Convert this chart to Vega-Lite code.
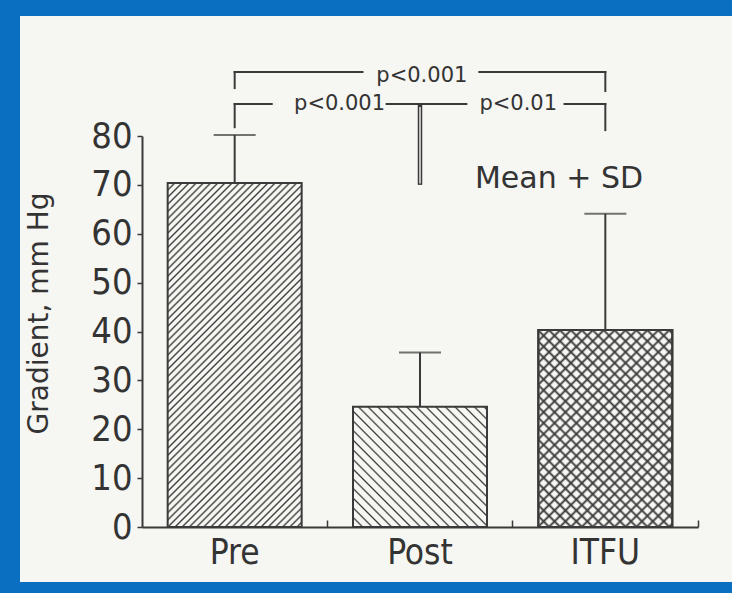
{
"$schema":"https://vega.github.io/schema/vega-lite/v6.json",
"width":712,"height":566,
"autosize":{"type":"none"},
"padding":{"left":20,"top":16,"right":0,"bottom":11},
"background":"#0b6fc1",
"config":{"view":{"fill":"#f6f6f2","stroke":null},"axis":{"grid":false}},
"datasets":{
"groups":[{"condition":"Pre","mean":70.4,"upper":80.2},{"condition":"Post","mean":24.6,"upper":35.7},{"condition":"ITFU","mean":40.3,"upper":64.1}],
"brackets":[
{"x_start":0.5,"x_end":0.5,"y_start":93.1,"y_end":89.8},
{"x_start":0.5,"x_end":1.19,"y_start":93.1,"y_end":93.1},
{"x_start":1.82,"x_end":2.5,"y_start":93.1,"y_end":93.1},
{"x_start":2.5,"x_end":2.5,"y_start":93.1,"y_end":89.2},
{"x_start":0.5,"x_end":0.5,"y_start":86.55,"y_end":81.8},
{"x_start":0.5,"x_end":0.7,"y_start":86.55,"y_end":86.55},
{"x_start":1.32,"x_end":1.75,"y_start":86.55,"y_end":86.55},
{"x_start":2.28,"x_end":2.5,"y_start":86.55,"y_end":86.55},
{"x_start":2.5,"x_end":2.5,"y_start":86.55,"y_end":81.2}],
"stem":[{"pos":1.5,"top":86.55,"bottom":70.0}],
"pvalues":[{"label":"p<0.001","pos":1.51,"value":91.1},{"label":"p<0.001","pos":1.066,"value":85.3},{"label":"p<0.01","pos":2.03,"value":85.3}],
"note":[{"label":"Mean + SD","pos":2.25,"value":69.4}]
},
"resolve":{"scale":{"x":"independent"},"axis":{"x":"independent"}},
"layer":[
{
"data":{"name":"groups"},
"encoding":{
"x":{"field":"condition","type":"nominal","sort":["Pre","Post","ITFU"],
"scale":{"domain":["Pre","Post","ITFU"],"range":[122,678],"paddingInner":0,"paddingOuter":0},
"axis":{"orient":"bottom","offset":-55,"title":null,"labelAngle":0,"bandPosition":1,"tickSize":-7,"tickWidth":1.5,"tickColor":"#3a3a3a","domainColor":"#3a3a3a","domainWidth":2,"labelFont":"DejaVu Sans Condensed","labelFontSize":35,"labelColor":"#333333","labelBaseline":"alphabetic","labelPadding":43,"labelDx":5}},
"y":{"field":"mean","type":"quantitative","scale":{"domain":[0,80],"range":[511,120],"nice":false,"zero":true},
"axis":{"orient":"left","offset":-122,"values":[0,5,10,15,20,25,30,35,40,45,50,55,60,65,70,75,80],"labelExpr":"datum.value % 10 === 0 ? datum.label : ''","labelOverlap":false,"tickSize":5,"tickWidth":1.5,"tickColor":"#3a3a3a","domainColor":"#3a3a3a","domainWidth":2,"labelPadding":5,"labelFont":"DejaVu Sans Condensed","labelFontSize":36,"labelColor":"#333333","title":"Gradient, mm Hg","titleFont":"DejaVu Sans","titleFontSize":28,"titleFontWeight":"normal","titleColor":"#333333","titleX":-103,"titleY":297,"titleAngle":-90,"titleAlign":"center","titleBaseline":"middle"}}
},
"layer":[
{"transform":[{"filter":"datum.condition === 'Pre'"}],
"mark":{"type":"bar","width":134,"stroke":"#3a3a3a","strokeWidth":2,"fill":{"gradient":"linear","x1":0,"y1":0,"x2":0.4699,"y2":1.2065,"stops":[
{"offset":0,"color":"#f6f6f2"},
{"offset":0.011,"color":"#f6f6f2"},{"offset":0.015,"color":"#3a3a3a"},{"offset":0.019,"color":"#f6f6f2"},
{"offset":0.026,"color":"#f6f6f2"},{"offset":0.03,"color":"#3a3a3a"},{"offset":0.034,"color":"#f6f6f2"},
{"offset":0.041,"color":"#f6f6f2"},{"offset":0.045,"color":"#3a3a3a"},{"offset":0.049,"color":"#f6f6f2"},
{"offset":0.056,"color":"#f6f6f2"},{"offset":0.06,"color":"#3a3a3a"},{"offset":0.064,"color":"#f6f6f2"},
{"offset":0.071,"color":"#f6f6f2"},{"offset":0.075,"color":"#3a3a3a"},{"offset":0.079,"color":"#f6f6f2"},
{"offset":0.086,"color":"#f6f6f2"},{"offset":0.09,"color":"#3a3a3a"},{"offset":0.094,"color":"#f6f6f2"},
{"offset":0.101,"color":"#f6f6f2"},{"offset":0.105,"color":"#3a3a3a"},{"offset":0.109,"color":"#f6f6f2"},
{"offset":0.116,"color":"#f6f6f2"},{"offset":0.12,"color":"#3a3a3a"},{"offset":0.124,"color":"#f6f6f2"},
{"offset":0.131,"color":"#f6f6f2"},{"offset":0.135,"color":"#3a3a3a"},{"offset":0.139,"color":"#f6f6f2"},
{"offset":0.146,"color":"#f6f6f2"},{"offset":0.15,"color":"#3a3a3a"},{"offset":0.154,"color":"#f6f6f2"},
{"offset":0.161,"color":"#f6f6f2"},{"offset":0.165,"color":"#3a3a3a"},{"offset":0.169,"color":"#f6f6f2"},
{"offset":0.176,"color":"#f6f6f2"},{"offset":0.18,"color":"#3a3a3a"},{"offset":0.184,"color":"#f6f6f2"},
{"offset":0.191,"color":"#f6f6f2"},{"offset":0.195,"color":"#3a3a3a"},{"offset":0.199,"color":"#f6f6f2"},
{"offset":0.206,"color":"#f6f6f2"},{"offset":0.21,"color":"#3a3a3a"},{"offset":0.214,"color":"#f6f6f2"},
{"offset":0.221,"color":"#f6f6f2"},{"offset":0.225,"color":"#3a3a3a"},{"offset":0.229,"color":"#f6f6f2"},
{"offset":0.236,"color":"#f6f6f2"},{"offset":0.24,"color":"#3a3a3a"},{"offset":0.244,"color":"#f6f6f2"},
{"offset":0.251,"color":"#f6f6f2"},{"offset":0.255,"color":"#3a3a3a"},{"offset":0.259,"color":"#f6f6f2"},
{"offset":0.266,"color":"#f6f6f2"},{"offset":0.27,"color":"#3a3a3a"},{"offset":0.274,"color":"#f6f6f2"},
{"offset":0.281,"color":"#f6f6f2"},{"offset":0.285,"color":"#3a3a3a"},{"offset":0.289,"color":"#f6f6f2"},
{"offset":0.296,"color":"#f6f6f2"},{"offset":0.3,"color":"#3a3a3a"},{"offset":0.304,"color":"#f6f6f2"},
{"offset":0.311,"color":"#f6f6f2"},{"offset":0.315,"color":"#3a3a3a"},{"offset":0.319,"color":"#f6f6f2"},
{"offset":0.326,"color":"#f6f6f2"},{"offset":0.33,"color":"#3a3a3a"},{"offset":0.334,"color":"#f6f6f2"},
{"offset":0.341,"color":"#f6f6f2"},{"offset":0.345,"color":"#3a3a3a"},{"offset":0.349,"color":"#f6f6f2"},
{"offset":0.356,"color":"#f6f6f2"},{"offset":0.36,"color":"#3a3a3a"},{"offset":0.364,"color":"#f6f6f2"},
{"offset":0.371,"color":"#f6f6f2"},{"offset":0.375,"color":"#3a3a3a"},{"offset":0.379,"color":"#f6f6f2"},
{"offset":0.386,"color":"#f6f6f2"},{"offset":0.39,"color":"#3a3a3a"},{"offset":0.394,"color":"#f6f6f2"},
{"offset":0.401,"color":"#f6f6f2"},{"offset":0.405,"color":"#3a3a3a"},{"offset":0.409,"color":"#f6f6f2"},
{"offset":0.416,"color":"#f6f6f2"},{"offset":0.42,"color":"#3a3a3a"},{"offset":0.424,"color":"#f6f6f2"},
{"offset":0.431,"color":"#f6f6f2"},{"offset":0.435,"color":"#3a3a3a"},{"offset":0.439,"color":"#f6f6f2"},
{"offset":0.446,"color":"#f6f6f2"},{"offset":0.45,"color":"#3a3a3a"},{"offset":0.454,"color":"#f6f6f2"},
{"offset":0.461,"color":"#f6f6f2"},{"offset":0.465,"color":"#3a3a3a"},{"offset":0.469,"color":"#f6f6f2"},
{"offset":0.476,"color":"#f6f6f2"},{"offset":0.48,"color":"#3a3a3a"},{"offset":0.484,"color":"#f6f6f2"},
{"offset":0.491,"color":"#f6f6f2"},{"offset":0.495,"color":"#3a3a3a"},{"offset":0.499,"color":"#f6f6f2"},
{"offset":0.506,"color":"#f6f6f2"},{"offset":0.51,"color":"#3a3a3a"},{"offset":0.514,"color":"#f6f6f2"},
{"offset":0.521,"color":"#f6f6f2"},{"offset":0.525,"color":"#3a3a3a"},{"offset":0.529,"color":"#f6f6f2"},
{"offset":0.536,"color":"#f6f6f2"},{"offset":0.54,"color":"#3a3a3a"},{"offset":0.544,"color":"#f6f6f2"},
{"offset":0.551,"color":"#f6f6f2"},{"offset":0.555,"color":"#3a3a3a"},{"offset":0.559,"color":"#f6f6f2"},
{"offset":0.566,"color":"#f6f6f2"},{"offset":0.57,"color":"#3a3a3a"},{"offset":0.574,"color":"#f6f6f2"},
{"offset":0.581,"color":"#f6f6f2"},{"offset":0.585,"color":"#3a3a3a"},{"offset":0.589,"color":"#f6f6f2"},
{"offset":0.596,"color":"#f6f6f2"},{"offset":0.6,"color":"#3a3a3a"},{"offset":0.604,"color":"#f6f6f2"},
{"offset":0.611,"color":"#f6f6f2"},{"offset":0.615,"color":"#3a3a3a"},{"offset":0.619,"color":"#f6f6f2"},
{"offset":0.626,"color":"#f6f6f2"},{"offset":0.63,"color":"#3a3a3a"},{"offset":0.634,"color":"#f6f6f2"},
{"offset":0.641,"color":"#f6f6f2"},{"offset":0.645,"color":"#3a3a3a"},{"offset":0.649,"color":"#f6f6f2"},
{"offset":0.656,"color":"#f6f6f2"},{"offset":0.66,"color":"#3a3a3a"},{"offset":0.664,"color":"#f6f6f2"},
{"offset":0.671,"color":"#f6f6f2"},{"offset":0.675,"color":"#3a3a3a"},{"offset":0.679,"color":"#f6f6f2"},
{"offset":0.686,"color":"#f6f6f2"},{"offset":0.69,"color":"#3a3a3a"},{"offset":0.694,"color":"#f6f6f2"},
{"offset":0.701,"color":"#f6f6f2"},{"offset":0.705,"color":"#3a3a3a"},{"offset":0.709,"color":"#f6f6f2"},
{"offset":0.716,"color":"#f6f6f2"},{"offset":0.72,"color":"#3a3a3a"},{"offset":0.724,"color":"#f6f6f2"},
{"offset":0.731,"color":"#f6f6f2"},{"offset":0.735,"color":"#3a3a3a"},{"offset":0.739,"color":"#f6f6f2"},
{"offset":0.746,"color":"#f6f6f2"},{"offset":0.75,"color":"#3a3a3a"},{"offset":0.754,"color":"#f6f6f2"},
{"offset":0.761,"color":"#f6f6f2"},{"offset":0.765,"color":"#3a3a3a"},{"offset":0.769,"color":"#f6f6f2"},
{"offset":0.776,"color":"#f6f6f2"},{"offset":0.78,"color":"#3a3a3a"},{"offset":0.784,"color":"#f6f6f2"},
{"offset":0.791,"color":"#f6f6f2"},{"offset":0.795,"color":"#3a3a3a"},{"offset":0.799,"color":"#f6f6f2"},
{"offset":0.806,"color":"#f6f6f2"},{"offset":0.81,"color":"#3a3a3a"},{"offset":0.814,"color":"#f6f6f2"},
{"offset":0.821,"color":"#f6f6f2"},{"offset":0.825,"color":"#3a3a3a"},{"offset":0.829,"color":"#f6f6f2"},
{"offset":0.836,"color":"#f6f6f2"},{"offset":0.84,"color":"#3a3a3a"},{"offset":0.844,"color":"#f6f6f2"},
{"offset":0.851,"color":"#f6f6f2"},{"offset":0.855,"color":"#3a3a3a"},{"offset":0.859,"color":"#f6f6f2"},
{"offset":0.866,"color":"#f6f6f2"},{"offset":0.87,"color":"#3a3a3a"},{"offset":0.874,"color":"#f6f6f2"},
{"offset":0.881,"color":"#f6f6f2"},{"offset":0.885,"color":"#3a3a3a"},{"offset":0.889,"color":"#f6f6f2"},
{"offset":0.896,"color":"#f6f6f2"},{"offset":0.9,"color":"#3a3a3a"},{"offset":0.904,"color":"#f6f6f2"},
{"offset":0.911,"color":"#f6f6f2"},{"offset":0.915,"color":"#3a3a3a"},{"offset":0.919,"color":"#f6f6f2"},
{"offset":0.926,"color":"#f6f6f2"},{"offset":0.93,"color":"#3a3a3a"},{"offset":0.934,"color":"#f6f6f2"},
{"offset":0.941,"color":"#f6f6f2"},{"offset":0.945,"color":"#3a3a3a"},{"offset":0.949,"color":"#f6f6f2"},
{"offset":0.956,"color":"#f6f6f2"},{"offset":0.96,"color":"#3a3a3a"},{"offset":0.964,"color":"#f6f6f2"},
{"offset":0.971,"color":"#f6f6f2"},{"offset":0.975,"color":"#3a3a3a"},{"offset":0.979,"color":"#f6f6f2"},
{"offset":0.986,"color":"#f6f6f2"},{"offset":0.99,"color":"#3a3a3a"},{"offset":0.994,"color":"#f6f6f2"}
]}}},
{"transform":[{"filter":"datum.condition === 'Post'"}],
"mark":{"type":"bar","width":134,"stroke":"#3a3a3a","strokeWidth":2,"fill":{"gradient":"linear","x1":0,"y1":1,"x2":1.0511,"y2":0.0569,"stops":[
{"offset":0,"color":"#f6f6f2"},
{"offset":0.031,"color":"#f6f6f2"},{"offset":0.038,"color":"#3a3a3a"},{"offset":0.045,"color":"#f6f6f2"},
{"offset":0.069,"color":"#f6f6f2"},{"offset":0.076,"color":"#3a3a3a"},{"offset":0.083,"color":"#f6f6f2"},
{"offset":0.107,"color":"#f6f6f2"},{"offset":0.114,"color":"#3a3a3a"},{"offset":0.121,"color":"#f6f6f2"},
{"offset":0.145,"color":"#f6f6f2"},{"offset":0.152,"color":"#3a3a3a"},{"offset":0.159,"color":"#f6f6f2"},
{"offset":0.183,"color":"#f6f6f2"},{"offset":0.19,"color":"#3a3a3a"},{"offset":0.197,"color":"#f6f6f2"},
{"offset":0.221,"color":"#f6f6f2"},{"offset":0.228,"color":"#3a3a3a"},{"offset":0.235,"color":"#f6f6f2"},
{"offset":0.259,"color":"#f6f6f2"},{"offset":0.266,"color":"#3a3a3a"},{"offset":0.273,"color":"#f6f6f2"},
{"offset":0.297,"color":"#f6f6f2"},{"offset":0.304,"color":"#3a3a3a"},{"offset":0.311,"color":"#f6f6f2"},
{"offset":0.335,"color":"#f6f6f2"},{"offset":0.342,"color":"#3a3a3a"},{"offset":0.349,"color":"#f6f6f2"},
{"offset":0.373,"color":"#f6f6f2"},{"offset":0.38,"color":"#3a3a3a"},{"offset":0.387,"color":"#f6f6f2"},
{"offset":0.411,"color":"#f6f6f2"},{"offset":0.418,"color":"#3a3a3a"},{"offset":0.425,"color":"#f6f6f2"},
{"offset":0.449,"color":"#f6f6f2"},{"offset":0.456,"color":"#3a3a3a"},{"offset":0.463,"color":"#f6f6f2"},
{"offset":0.487,"color":"#f6f6f2"},{"offset":0.494,"color":"#3a3a3a"},{"offset":0.501,"color":"#f6f6f2"},
{"offset":0.525,"color":"#f6f6f2"},{"offset":0.532,"color":"#3a3a3a"},{"offset":0.539,"color":"#f6f6f2"},
{"offset":0.563,"color":"#f6f6f2"},{"offset":0.57,"color":"#3a3a3a"},{"offset":0.577,"color":"#f6f6f2"},
{"offset":0.601,"color":"#f6f6f2"},{"offset":0.608,"color":"#3a3a3a"},{"offset":0.615,"color":"#f6f6f2"},
{"offset":0.639,"color":"#f6f6f2"},{"offset":0.646,"color":"#3a3a3a"},{"offset":0.653,"color":"#f6f6f2"},
{"offset":0.677,"color":"#f6f6f2"},{"offset":0.684,"color":"#3a3a3a"},{"offset":0.691,"color":"#f6f6f2"},
{"offset":0.715,"color":"#f6f6f2"},{"offset":0.722,"color":"#3a3a3a"},{"offset":0.729,"color":"#f6f6f2"},
{"offset":0.753,"color":"#f6f6f2"},{"offset":0.76,"color":"#3a3a3a"},{"offset":0.767,"color":"#f6f6f2"},
{"offset":0.791,"color":"#f6f6f2"},{"offset":0.798,"color":"#3a3a3a"},{"offset":0.805,"color":"#f6f6f2"},
{"offset":0.829,"color":"#f6f6f2"},{"offset":0.836,"color":"#3a3a3a"},{"offset":0.843,"color":"#f6f6f2"},
{"offset":0.867,"color":"#f6f6f2"},{"offset":0.874,"color":"#3a3a3a"},{"offset":0.881,"color":"#f6f6f2"},
{"offset":0.905,"color":"#f6f6f2"},{"offset":0.912,"color":"#3a3a3a"},{"offset":0.919,"color":"#f6f6f2"},
{"offset":0.943,"color":"#f6f6f2"},{"offset":0.95,"color":"#3a3a3a"},{"offset":0.957,"color":"#f6f6f2"},
{"offset":0.981,"color":"#f6f6f2"},{"offset":0.988,"color":"#3a3a3a"},{"offset":0.995,"color":"#f6f6f2"}
]}}},
{"transform":[{"filter":"datum.condition === 'ITFU'"}],
"mark":{"type":"bar","width":134,"stroke":"#3a3a3a","strokeWidth":2,"fill":{"gradient":"linear","x1":0,"y1":0,"x2":0.7815,"y2":1.1487,"stops":[
{"offset":0,"color":"#f6f6f2"},
{"offset":0.025,"color":"#f6f6f2"},{"offset":0.033,"color":"#3a3a3a"},{"offset":0.041,"color":"#f6f6f2"},
{"offset":0.058,"color":"#f6f6f2"},{"offset":0.066,"color":"#3a3a3a"},{"offset":0.074,"color":"#f6f6f2"},
{"offset":0.091,"color":"#f6f6f2"},{"offset":0.099,"color":"#3a3a3a"},{"offset":0.107,"color":"#f6f6f2"},
{"offset":0.124,"color":"#f6f6f2"},{"offset":0.132,"color":"#3a3a3a"},{"offset":0.14,"color":"#f6f6f2"},
{"offset":0.157,"color":"#f6f6f2"},{"offset":0.165,"color":"#3a3a3a"},{"offset":0.173,"color":"#f6f6f2"},
{"offset":0.19,"color":"#f6f6f2"},{"offset":0.198,"color":"#3a3a3a"},{"offset":0.206,"color":"#f6f6f2"},
{"offset":0.223,"color":"#f6f6f2"},{"offset":0.231,"color":"#3a3a3a"},{"offset":0.239,"color":"#f6f6f2"},
{"offset":0.256,"color":"#f6f6f2"},{"offset":0.264,"color":"#3a3a3a"},{"offset":0.272,"color":"#f6f6f2"},
{"offset":0.289,"color":"#f6f6f2"},{"offset":0.297,"color":"#3a3a3a"},{"offset":0.305,"color":"#f6f6f2"},
{"offset":0.322,"color":"#f6f6f2"},{"offset":0.33,"color":"#3a3a3a"},{"offset":0.338,"color":"#f6f6f2"},
{"offset":0.355,"color":"#f6f6f2"},{"offset":0.363,"color":"#3a3a3a"},{"offset":0.371,"color":"#f6f6f2"},
{"offset":0.388,"color":"#f6f6f2"},{"offset":0.396,"color":"#3a3a3a"},{"offset":0.404,"color":"#f6f6f2"},
{"offset":0.421,"color":"#f6f6f2"},{"offset":0.429,"color":"#3a3a3a"},{"offset":0.437,"color":"#f6f6f2"},
{"offset":0.454,"color":"#f6f6f2"},{"offset":0.462,"color":"#3a3a3a"},{"offset":0.47,"color":"#f6f6f2"},
{"offset":0.487,"color":"#f6f6f2"},{"offset":0.495,"color":"#3a3a3a"},{"offset":0.503,"color":"#f6f6f2"},
{"offset":0.52,"color":"#f6f6f2"},{"offset":0.528,"color":"#3a3a3a"},{"offset":0.536,"color":"#f6f6f2"},
{"offset":0.553,"color":"#f6f6f2"},{"offset":0.561,"color":"#3a3a3a"},{"offset":0.569,"color":"#f6f6f2"},
{"offset":0.586,"color":"#f6f6f2"},{"offset":0.594,"color":"#3a3a3a"},{"offset":0.602,"color":"#f6f6f2"},
{"offset":0.619,"color":"#f6f6f2"},{"offset":0.627,"color":"#3a3a3a"},{"offset":0.635,"color":"#f6f6f2"},
{"offset":0.652,"color":"#f6f6f2"},{"offset":0.66,"color":"#3a3a3a"},{"offset":0.668,"color":"#f6f6f2"},
{"offset":0.685,"color":"#f6f6f2"},{"offset":0.693,"color":"#3a3a3a"},{"offset":0.701,"color":"#f6f6f2"},
{"offset":0.718,"color":"#f6f6f2"},{"offset":0.726,"color":"#3a3a3a"},{"offset":0.734,"color":"#f6f6f2"},
{"offset":0.751,"color":"#f6f6f2"},{"offset":0.759,"color":"#3a3a3a"},{"offset":0.767,"color":"#f6f6f2"},
{"offset":0.784,"color":"#f6f6f2"},{"offset":0.792,"color":"#3a3a3a"},{"offset":0.8,"color":"#f6f6f2"},
{"offset":0.817,"color":"#f6f6f2"},{"offset":0.825,"color":"#3a3a3a"},{"offset":0.833,"color":"#f6f6f2"},
{"offset":0.85,"color":"#f6f6f2"},{"offset":0.858,"color":"#3a3a3a"},{"offset":0.866,"color":"#f6f6f2"},
{"offset":0.883,"color":"#f6f6f2"},{"offset":0.891,"color":"#3a3a3a"},{"offset":0.899,"color":"#f6f6f2"},
{"offset":0.916,"color":"#f6f6f2"},{"offset":0.924,"color":"#3a3a3a"},{"offset":0.932,"color":"#f6f6f2"},
{"offset":0.949,"color":"#f6f6f2"},{"offset":0.957,"color":"#3a3a3a"},{"offset":0.965,"color":"#f6f6f2"},
{"offset":0.982,"color":"#f6f6f2"},{"offset":0.99,"color":"#3a3a3a"},{"offset":0.998,"color":"#f6f6f2"}
]}}},
{"transform":[{"filter":"datum.condition === 'ITFU'"}],
"mark":{"type":"bar","width":134,"stroke":"#3a3a3a","strokeWidth":2,"fill":{"gradient":"linear","x1":0,"y1":1,"x2":0.7815,"y2":-0.1487,"stops":[
{"offset":0,"color":"rgba(58,58,58,0)"},
{"offset":0.025,"color":"rgba(58,58,58,0)"},{"offset":0.033,"color":"#3a3a3a"},{"offset":0.041,"color":"rgba(58,58,58,0)"},
{"offset":0.058,"color":"rgba(58,58,58,0)"},{"offset":0.066,"color":"#3a3a3a"},{"offset":0.074,"color":"rgba(58,58,58,0)"},
{"offset":0.091,"color":"rgba(58,58,58,0)"},{"offset":0.099,"color":"#3a3a3a"},{"offset":0.107,"color":"rgba(58,58,58,0)"},
{"offset":0.124,"color":"rgba(58,58,58,0)"},{"offset":0.132,"color":"#3a3a3a"},{"offset":0.14,"color":"rgba(58,58,58,0)"},
{"offset":0.157,"color":"rgba(58,58,58,0)"},{"offset":0.165,"color":"#3a3a3a"},{"offset":0.173,"color":"rgba(58,58,58,0)"},
{"offset":0.19,"color":"rgba(58,58,58,0)"},{"offset":0.198,"color":"#3a3a3a"},{"offset":0.206,"color":"rgba(58,58,58,0)"},
{"offset":0.223,"color":"rgba(58,58,58,0)"},{"offset":0.231,"color":"#3a3a3a"},{"offset":0.239,"color":"rgba(58,58,58,0)"},
{"offset":0.256,"color":"rgba(58,58,58,0)"},{"offset":0.264,"color":"#3a3a3a"},{"offset":0.272,"color":"rgba(58,58,58,0)"},
{"offset":0.289,"color":"rgba(58,58,58,0)"},{"offset":0.297,"color":"#3a3a3a"},{"offset":0.305,"color":"rgba(58,58,58,0)"},
{"offset":0.322,"color":"rgba(58,58,58,0)"},{"offset":0.33,"color":"#3a3a3a"},{"offset":0.338,"color":"rgba(58,58,58,0)"},
{"offset":0.355,"color":"rgba(58,58,58,0)"},{"offset":0.363,"color":"#3a3a3a"},{"offset":0.371,"color":"rgba(58,58,58,0)"},
{"offset":0.388,"color":"rgba(58,58,58,0)"},{"offset":0.396,"color":"#3a3a3a"},{"offset":0.404,"color":"rgba(58,58,58,0)"},
{"offset":0.421,"color":"rgba(58,58,58,0)"},{"offset":0.429,"color":"#3a3a3a"},{"offset":0.437,"color":"rgba(58,58,58,0)"},
{"offset":0.454,"color":"rgba(58,58,58,0)"},{"offset":0.462,"color":"#3a3a3a"},{"offset":0.47,"color":"rgba(58,58,58,0)"},
{"offset":0.487,"color":"rgba(58,58,58,0)"},{"offset":0.495,"color":"#3a3a3a"},{"offset":0.503,"color":"rgba(58,58,58,0)"},
{"offset":0.52,"color":"rgba(58,58,58,0)"},{"offset":0.528,"color":"#3a3a3a"},{"offset":0.536,"color":"rgba(58,58,58,0)"},
{"offset":0.553,"color":"rgba(58,58,58,0)"},{"offset":0.561,"color":"#3a3a3a"},{"offset":0.569,"color":"rgba(58,58,58,0)"},
{"offset":0.586,"color":"rgba(58,58,58,0)"},{"offset":0.594,"color":"#3a3a3a"},{"offset":0.602,"color":"rgba(58,58,58,0)"},
{"offset":0.619,"color":"rgba(58,58,58,0)"},{"offset":0.627,"color":"#3a3a3a"},{"offset":0.635,"color":"rgba(58,58,58,0)"},
{"offset":0.652,"color":"rgba(58,58,58,0)"},{"offset":0.66,"color":"#3a3a3a"},{"offset":0.668,"color":"rgba(58,58,58,0)"},
{"offset":0.685,"color":"rgba(58,58,58,0)"},{"offset":0.693,"color":"#3a3a3a"},{"offset":0.701,"color":"rgba(58,58,58,0)"},
{"offset":0.718,"color":"rgba(58,58,58,0)"},{"offset":0.726,"color":"#3a3a3a"},{"offset":0.734,"color":"rgba(58,58,58,0)"},
{"offset":0.751,"color":"rgba(58,58,58,0)"},{"offset":0.759,"color":"#3a3a3a"},{"offset":0.767,"color":"rgba(58,58,58,0)"},
{"offset":0.784,"color":"rgba(58,58,58,0)"},{"offset":0.792,"color":"#3a3a3a"},{"offset":0.8,"color":"rgba(58,58,58,0)"},
{"offset":0.817,"color":"rgba(58,58,58,0)"},{"offset":0.825,"color":"#3a3a3a"},{"offset":0.833,"color":"rgba(58,58,58,0)"},
{"offset":0.85,"color":"rgba(58,58,58,0)"},{"offset":0.858,"color":"#3a3a3a"},{"offset":0.866,"color":"rgba(58,58,58,0)"},
{"offset":0.883,"color":"rgba(58,58,58,0)"},{"offset":0.891,"color":"#3a3a3a"},{"offset":0.899,"color":"rgba(58,58,58,0)"},
{"offset":0.916,"color":"rgba(58,58,58,0)"},{"offset":0.924,"color":"#3a3a3a"},{"offset":0.932,"color":"rgba(58,58,58,0)"},
{"offset":0.949,"color":"rgba(58,58,58,0)"},{"offset":0.957,"color":"#3a3a3a"},{"offset":0.965,"color":"rgba(58,58,58,0)"},
{"offset":0.982,"color":"rgba(58,58,58,0)"},{"offset":0.99,"color":"#3a3a3a"},{"offset":0.998,"color":"rgba(58,58,58,0)"}
]}}},
{"mark":{"type":"rule","stroke":"#3a3a3a","strokeWidth":2},"encoding":{"y2":{"field":"upper"}}},
{"mark":{"type":"tick","color":"#3a3a3a","size":42,"thickness":2},"encoding":{"y":{"field":"upper","type":"quantitative","scale":{"domain":[0,80],"range":[511,120],"nice":false,"zero":true}}}}
]
},
{
"layer":[
{"data":{"name":"brackets"},
"mark":{"type":"rule","stroke":"#3a3a3a","strokeWidth":2,"strokeCap":"square"},
"encoding":{
"x":{"field":"x_start","type":"quantitative","scale":{"domain":[0,3],"range":[122,678],"nice":false,"zero":false},"axis":null},
"x2":{"field":"x_end"},
"y":{"field":"y_start","type":"quantitative","scale":{"domain":[0,80],"range":[511,120],"nice":false,"zero":true}},
"y2":{"field":"y_end"}}},
{"data":{"name":"stem"},
"mark":{"type":"rule","stroke":"#3a3a3a","strokeWidth":4.5},
"encoding":{
"x":{"field":"pos","type":"quantitative","scale":{"domain":[0,3],"range":[122,678],"nice":false,"zero":false},"axis":null},
"y":{"field":"top","type":"quantitative","scale":{"domain":[0,80],"range":[511,120],"nice":false,"zero":true}},
"y2":{"field":"bottom"}}},
{"data":{"name":"stem"},
"mark":{"type":"rule","stroke":"#f6f6f2","strokeWidth":1.4,"yOffset":3,"y2Offset":-1.5},
"encoding":{
"x":{"field":"pos","type":"quantitative","scale":{"domain":[0,3],"range":[122,678],"nice":false,"zero":false},"axis":null},
"y":{"field":"top","type":"quantitative","scale":{"domain":[0,80],"range":[511,120],"nice":false,"zero":true}},
"y2":{"field":"bottom"}}},
{"data":{"name":"pvalues"},
"mark":{"type":"text","font":"DejaVu Sans","fontSize":21,"color":"#333333","baseline":"alphabetic","align":"center"},
"encoding":{
"x":{"field":"pos","type":"quantitative","scale":{"domain":[0,3],"range":[122,678],"nice":false,"zero":false},"axis":null},
"y":{"field":"value","type":"quantitative","scale":{"domain":[0,80],"range":[511,120],"nice":false,"zero":true}},
"text":{"field":"label"}}},
{"data":{"name":"note"},
"mark":{"type":"text","font":"DejaVu Sans","fontSize":30,"color":"#333333","baseline":"alphabetic","align":"center"},
"encoding":{
"x":{"field":"pos","type":"quantitative","scale":{"domain":[0,3],"range":[122,678],"nice":false,"zero":false},"axis":null},
"y":{"field":"value","type":"quantitative","scale":{"domain":[0,80],"range":[511,120],"nice":false,"zero":true}},
"text":{"field":"label"}}}
]
}
]
}
